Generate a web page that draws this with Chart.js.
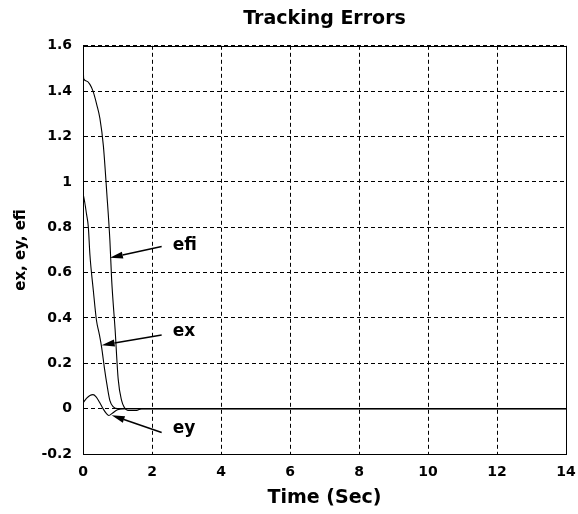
<!DOCTYPE html>
<html>
<head>
<meta charset="utf-8">
<script src="https://cdn.jsdelivr.net/npm/chart.js@4.4.1/dist/chart.umd.min.js"></script>
<style>
  html, body { margin: 0; padding: 0; background: #fff; }
  #wrap { width: 578px; height: 514px; }
</style>
</head>
<body>
<div id="wrap"><canvas id="c" width="578" height="514"></canvas></div>
<script>
// ---- data ----
const efiTime  = [0, 0.02, 0.1, 0.2, 0.29, 0.4, 0.49, 0.59, 0.69, 0.78, 0.83, 0.93, 1.02, 1.12, 1.2, 1.3, 1.55, 1.7, 14];
const efiVals  = [1.56, 1.455, 1.445, 1.43, 1.40, 1.34, 1.28, 1.16, 0.95, 0.74, 0.57, 0.35, 0.13, 0.035, 0.005, -0.008, -0.008, 0, 0];

const exTime   = [0, 0.05, 0.1, 0.155, 0.2, 0.3, 0.39, 0.47, 0.54, 0.62, 0.69, 0.78, 0.88, 1.0, 14];
const exVals   = [0.95, 0.91, 0.86, 0.80, 0.68, 0.52, 0.39, 0.33, 0.27, 0.18, 0.11, 0.035, 0.008, 0, 0];

const eyTime   = [0, 0.1, 0.2, 0.29, 0.38, 0.48, 0.58, 0.67, 0.75, 0.85, 1.0, 1.2, 14];
const eyVals   = [0.025, 0.045, 0.058, 0.062, 0.052, 0.028, 0.0, -0.02, -0.03, -0.02, -0.005, 0, 0];

const xTickLabels = ['0', '2', '4', '6', '8', '10', '12', '14'];
const yTickLabels = ['-0.2', '0', '0.2', '0.4', '0.6', '0.8', '1', '1.2', '1.4', '1.6'];

// annotation labels with arrows (data coordinates)
const annoLabels = ['efi', 'ex', 'ey'];
const annoTextT  = [2.6, 2.6, 2.6];
const annoTextV  = [0.72, 0.34, -0.09];
const arrowFromT = [2.28, 2.28, 2.28];
const arrowFromV = [0.715, 0.325, -0.105];
const arrowToT   = [0.78, 0.54, 0.83];
const arrowToV   = [0.665, 0.28, -0.029];

function pts(t, v) { return t.map((x, i) => ({ x: x, y: v[i] })); }

const FONT = "'DejaVu Sans', sans-serif";

const boxPlugin = {
  id: 'boxAndNotes',
  afterDatasetsDraw(chart) {
    const ctx = chart.ctx;
    const a = chart.chartArea;
    const xs = chart.scales.x, ys = chart.scales.y;
    ctx.save();
    // solid box
    ctx.strokeStyle = '#000';
    ctx.lineWidth = 1;
    ctx.setLineDash([]);
    ctx.strokeRect(Math.round(a.left) + 0.5, Math.round(a.top) + 0.5,
                   Math.round(a.right - a.left), Math.round(a.bottom - a.top));
    // arrows + labels
    ctx.fillStyle = '#000';
    ctx.lineWidth = 1.5;
    for (let i = 0; i < annoLabels.length; i++) {
      const x1 = xs.getPixelForValue(arrowFromT[i]), y1 = ys.getPixelForValue(arrowFromV[i]);
      const x2 = xs.getPixelForValue(arrowToT[i]),   y2 = ys.getPixelForValue(arrowToV[i]);
      const ang = Math.atan2(y2 - y1, x2 - x1);
      const L = 13, W = 3.5;
      const bx = x2 - L * Math.cos(ang), by = y2 - L * Math.sin(ang);
      ctx.beginPath();
      ctx.moveTo(x1, y1);
      ctx.lineTo(bx, by);
      ctx.stroke();
      ctx.beginPath();
      ctx.moveTo(x2, y2);
      ctx.lineTo(bx + W * Math.sin(ang), by - W * Math.cos(ang));
      ctx.lineTo(bx - W * Math.sin(ang), by + W * Math.cos(ang));
      ctx.closePath();
      ctx.fill();
      ctx.font = 'bold 17px ' + FONT;
      ctx.textAlign = 'left';
      ctx.textBaseline = 'middle';
      ctx.fillText(annoLabels[i], xs.getPixelForValue(annoTextT[i]), ys.getPixelForValue(annoTextV[i]));
    }
    ctx.restore();
  }
};

const lineStyle = {
  borderColor: '#000',
  borderWidth: 1.1,
  pointRadius: 0,
  fill: false,
  cubicInterpolationMode: 'monotone'
};

new Chart(document.getElementById('c'), {
  type: 'line',
  data: {
    datasets: [
      Object.assign({ label: 'efi', data: pts(efiTime, efiVals) }, lineStyle),
      Object.assign({ label: 'ex',  data: pts(exTime, exVals) }, lineStyle),
      Object.assign({ label: 'ey',  data: pts(eyTime, eyVals) }, lineStyle)
    ]
  },
  options: {
    responsive: false,
    animation: false,
    layout: { padding: { top: 0, left: 0, right: 12, bottom: 0 } },
    plugins: {
      legend: { display: false },
      tooltip: { enabled: false },
      title: {
        display: true,
        text: 'Tracking Errors',
        color: '#000',
        fullSize: false,
        font: { family: FONT, size: 19, weight: 'bold' },
        padding: { top: 8, bottom: 15 }
      }
    },
    scales: {
      x: {
        type: 'linear',
        min: 0, max: 14,
        ticks: {
          stepSize: 2,
          color: '#000',
          padding: 10,
          maxRotation: 0,
          font: { family: FONT, size: 14, weight: 'bold' },
          callback: (v, i) => xTickLabels[i]
        },
        grid: { color: '#000', lineWidth: 1, drawTicks: false },
        border: { display: true, color: '#000', dash: [4, 3] },
        title: {
          display: true,
          text: 'Time (Sec)',
          color: '#000',
          font: { family: FONT, size: 19, weight: 'bold' },
          padding: { top: 0, bottom: 5 }
        },
        afterFit: (s) => { s.height = 60; s.paddingLeft = 0; s.paddingRight = 0; }
      },
      y: {
        type: 'linear',
        min: -0.2, max: 1.6,
        ticks: {
          stepSize: 0.2,
          color: '#000',
          padding: 11,
          font: { family: FONT, size: 14, weight: 'bold' },
          callback: (v, i) => yTickLabels[i]
        },
        grid: { color: '#000', lineWidth: 1, drawTicks: false },
        border: { display: true, color: '#000', dash: [4, 3] },
        title: {
          display: true,
          text: 'ex, ey, efi',
          color: '#000',
          font: { family: FONT, size: 15, weight: 'bold' },
          padding: { top: 12, bottom: 0 }
        },
        afterFit: (s) => { s.width = 83; s.paddingTop = 0; s.paddingBottom = 0; }
      }
    }
  },
  plugins: [boxPlugin]
});
</script>
</body>
</html>
